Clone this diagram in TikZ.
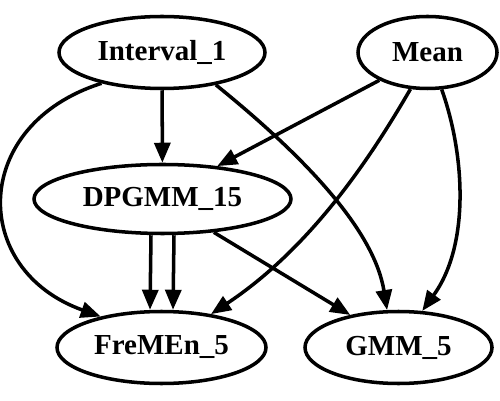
\documentclass[tikz,border=0pt]{standalone}
\usepackage{fontspec}
\setmainfont{Liberation Serif}
\usepackage{tikz}
\usetikzlibrary{arrows.meta, shapes.geometric}

\tikzset{
    var/.style={draw, ellipse, line width=2pt, inner sep=0pt, minimum height=1.44cm,
        font=\fontsize{16.5}{19}\selectfont\bfseries},
    dep/.style={line width=2pt, -{Triangle[length=0.4cm, width=0.32cm]}}
}

\begin{document}
\begin{tikzpicture}
        \useasboundingbox (0,0) rectangle (10,8);

        % Nodos
        \node[var, minimum width=4.12cm] (interval) at (3.24,6.95) {Interval\_1};
        \node[var, minimum width=2.78cm] (mean) at (8.55,6.95) {Mean};
        \node[var, minimum width=5.14cm, minimum height=1.38cm] (dpgmm) at (3.25,4.02) {DPGMM\_15};
        \node[var, minimum width=4.18cm] (fremen) at (3.23,1.05) {FreMEn\_5};
        \node[var, minimum width=3.74cm] (gmm) at (7.97,1.05) {GMM\_5};

        % Desde Interval_1
        \draw[dep] (interval) -- (dpgmm);
        \draw[dep] (interval.207) .. controls (-0.6,5.5) and (-0.6,2.6) .. (fremen.153);
        \draw[dep] (interval.329) .. controls (6.3,4.7) and (7.5,3.3) .. (gmm.107);

        % Desde Mean
        \draw[dep] (mean.210) -- (dpgmm.31);
        \draw[dep] (mean.245) .. controls (7.5,5.0) and (6.3,3.1) .. (fremen.34);
        \draw[dep] (mean.291) .. controls (9.3,4.9) and (9.4,3.1) .. (gmm.57);

        % Desde DPGMM_15
        \draw[dep] ([xshift=-0.23cm]dpgmm.south) -- ([xshift=-0.23cm]fremen.north);
        \draw[dep] ([xshift=0.23cm]dpgmm.south) -- ([xshift=0.23cm]fremen.north);
        \draw[dep] (dpgmm.327) -- (gmm.146);
    \end{tikzpicture}
\end{document}
